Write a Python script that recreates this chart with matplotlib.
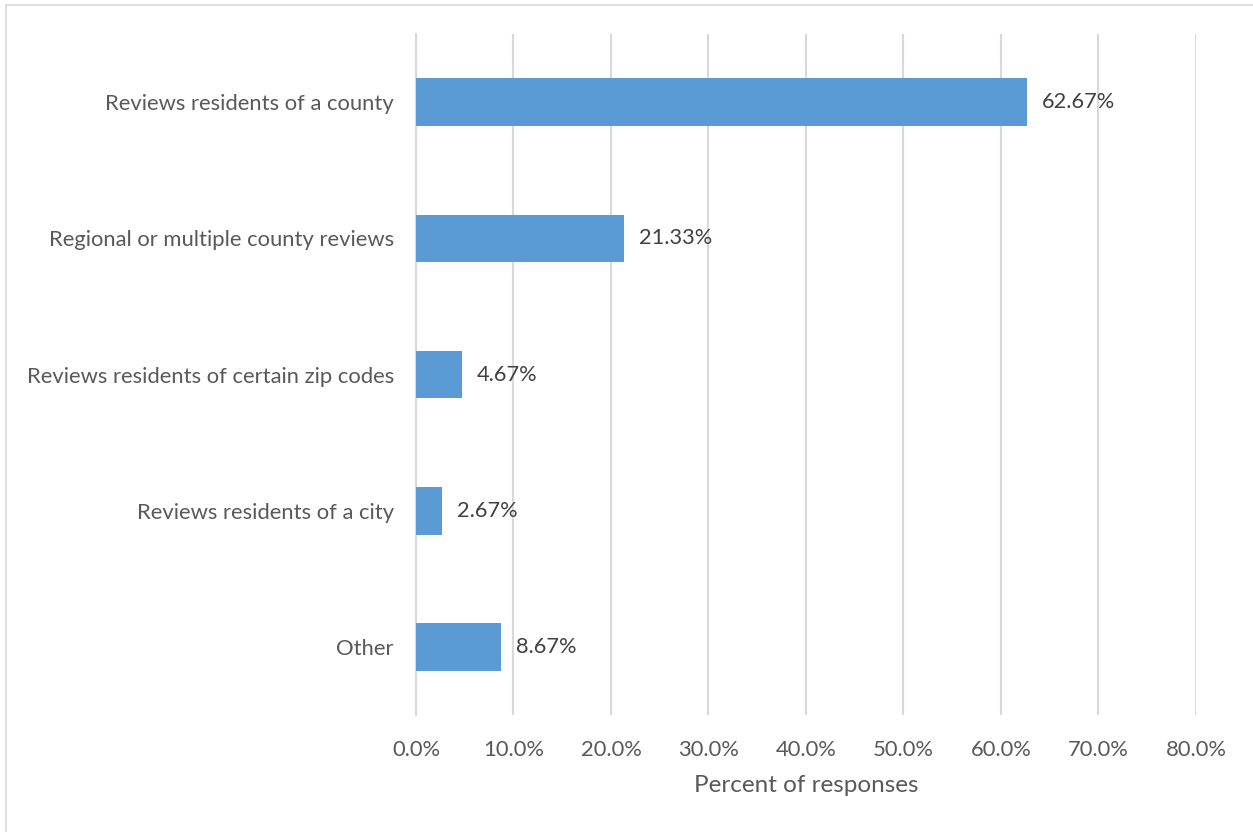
import matplotlib.pyplot as plt
from matplotlib.patches import Rectangle
from matplotlib.ticker import FuncFormatter

# -------------------------
# DATA
# -------------------------
categories = [
    "Reviews residents of a county",
    "Regional or multiple county reviews",
    "Reviews residents of certain zip codes",
    "Reviews residents of a city",
    "Other",
]
percents = [62.67, 21.33, 4.67, 2.67, 8.67]
x_ticks = [0, 10, 20, 30, 40, 50, 60, 70, 80]

BAR_COLOR = "#5B9BD5"
TEXT_COLOR = "#595959"
GRID_COLOR = "#D9D9D9"

plt.rcParams['font.family'] = ['Lato', 'DejaVu Sans']

fig = plt.figure(figsize=(12.53, 8.32), dpi=100)
ax = fig.add_axes([0.332, 0.1406, 0.6225, 0.8184])

# chart border (right and bottom edges fall outside the canvas)
fig.patches.append(Rectangle((0.005, -0.01), 1.0, 1.004, transform=fig.transFigure,
                             fill=False, edgecolor=GRID_COLOR, linewidth=1.2))

y = list(range(len(categories)))
ax.barh(y, percents, height=0.35, color=BAR_COLOR, zorder=3)

for yi, v in zip(y, percents):
    ax.annotate(f"{v:.2f}%", (v, yi), xytext=(11, 0), textcoords="offset points",
                va="center", ha="left", fontsize=15.7, color="#404040")

ax.set_ylim(len(categories) - 0.5, -0.5)
ax.set_xlim(0, 80)
ax.set_xticks(x_ticks)
ax.xaxis.set_major_formatter(FuncFormatter(lambda v, p: f"{v:.1f}%"))
ax.set_yticks(y)
ax.set_yticklabels(categories)

ax.grid(axis="x", color=GRID_COLOR, linewidth=1.5, zorder=0)
ax.set_axisbelow(True)
for s in ax.spines.values():
    s.set_visible(False)
ax.spines["left"].set_visible(True)
ax.spines["left"].set_color(GRID_COLOR)
ax.spines["left"].set_linewidth(1.5)

ax.tick_params(axis="both", length=0, labelsize=15.8, labelcolor=TEXT_COLOR)
ax.tick_params(axis="x", pad=18)
ax.tick_params(axis="y", pad=16)

ax.set_xlabel("Percent of responses", fontsize=17.5, color=TEXT_COLOR, labelpad=11)

fig.savefig("out.png", dpi=100, facecolor="white")
